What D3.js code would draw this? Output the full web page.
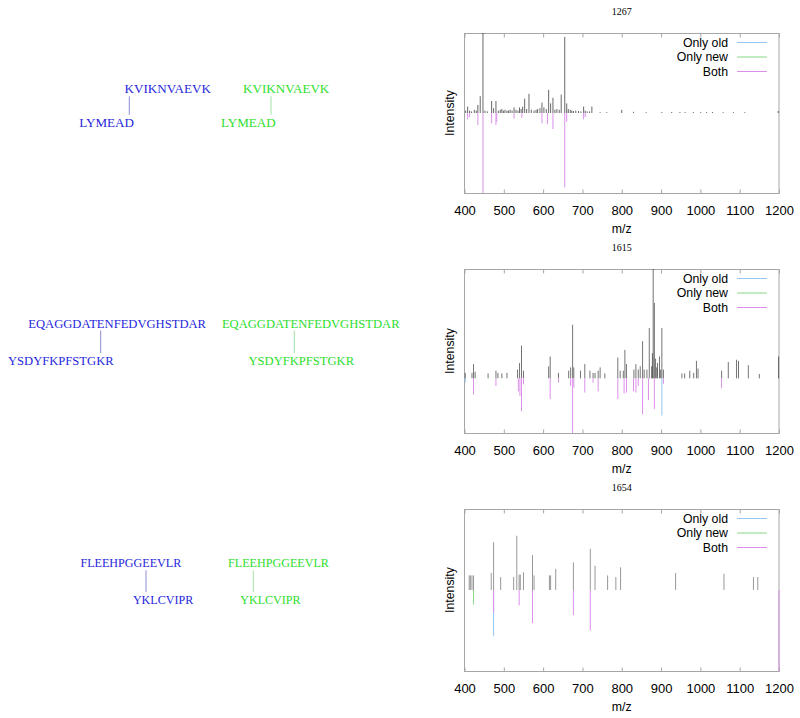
<!DOCTYPE html>
<html><head><meta charset="utf-8">
<script src="https://cdn.jsdelivr.net/npm/d3@7"></script>
<style>body{margin:0;background:#fff}svg{display:block}</style>
</head><body>
<svg id="c" width="800" height="718"></svg>
<script>
// ---------------- DATA ----------------
const titles = ["1267", "1615", "1654"];
const peptideA = ["KVIKNVAEVK", "EQAGGDATENFEDVGHSTDAR", "FLEEHPGGEEVLR"];
const peptideB = ["LYMEAD", "YSDYFKPFSTGKR", "YKLCVIPR"];
const oldLinkA = [0, 8, 8];
const oldLinkB = [5, 11, 1];
const newLinkA = [3, 8, 3];
const newLinkB = [5, 5, 1];
const xTicks = [400, 500, 600, 700, 800, 900, 1000, 1100, 1200];
const legendLabels = ["Only old", "Only new", "Both"];
const yDomains = [[-1, 1], [-0.5, 1], [-1, 1]];

// spectrum 1267
const spec1Mz  = [403,408,413,418,425,430,434,440,447,452,458,469,474,480,486,491,495,499,503,508,512,516,521,526,531,536,540,544,548,553,558,564,570,577,582,586,592,597,602,608,614,619,625,630,635,641,646,655,660,664,669,673,677,683,690,696,703,707,712,718,724,745,762,800,830,862,902,927,948,961,982,1001,1016,1031,1058,1084,1113,1198];
const spec1Int = [0.03,0.08,0.03,0.02,0.04,0.03,0.1,0.21,1.05,0.03,0.02,0.15,0.06,0.15,0.03,0.04,0.05,0.03,0.04,0.03,0.03,0.04,0.03,0.07,0.04,0.03,0.07,0.05,0.08,0.18,0.05,0.24,0.04,0.03,0.04,0.05,0.06,0.13,0.07,0.05,0.29,0.12,0.19,0.04,0.05,0.04,0.23,0.95,0.12,0.05,0.04,0.03,0.025,0.03,0.025,0.02,0.08,0.03,0.02,0.02,0.08,0.01,0.01,0.04,0.015,0.01,0.012,0.012,0.012,0.012,0.012,0.012,0.012,0.012,0.01,0.01,0.01,0.025];
const old1Mz = [], old1Int = [];
const new1Mz = [], new1Int = [];
const both1Mz  = [408,413,434,447,469,480,482,526,546,597,611,625,655,660,703,707];
const both1Int = [-0.08,-0.05,-0.15,-1.05,-0.13,-0.15,-0.11,-0.07,-0.06,-0.13,-0.14,-0.2,-0.93,-0.11,-0.08,-0.05];

// spectrum 1615
const spec2Mz  = [402,419,423,427,460,480,485,495,508,535,540,545,550,614,618,639,665,670,675,678,695,706,719,727,732,740,745,757,790,796,804,808,812,831,836,842,847,853,857,864,870,876,878,880,883,886,889,891,896,899,902,906,953,960,973,983,990,994,1054,1071,1092,1097,1122,1150,1199];
const spec2Int = [0.05,0.05,0.13,0.06,0.045,0.07,0.05,0.045,0.05,0.08,0.14,0.3,0.07,0.11,0.2,0.05,0.07,0.1,0.49,0.1,0.07,0.13,0.07,0.05,0.05,0.07,0.1,0.045,0.19,0.07,0.07,0.26,0.13,0.08,0.13,0.08,0.11,0.34,0.08,0.08,0.46,0.11,0.23,1.05,0.69,0.18,0.1,0.14,0.2,0.08,0.46,0.08,0.045,0.045,0.07,0.05,0.16,0.09,0.07,0.15,0.17,0.16,0.12,0.04,0.2];
const old2Mz  = [402,902];
const old2Int = [-0.04,-0.34];
const new2Mz = [], new2Int = [];
const both2Mz  = [423,480,537,541,545,550,618,639,670,675,678,706,727,740,790,806,812,830,836,842,853,868,883,906,1054];
const both2Int = [-0.15,-0.07,-0.12,-0.16,-0.3,-0.055,-0.19,-0.04,-0.07,-0.5,-0.085,-0.13,-0.04,-0.12,-0.19,-0.14,-0.13,-0.12,-0.13,-0.07,-0.33,-0.2,-0.28,-0.05,-0.09];

// spectrum 1654
const spec3Mz  = [412,415,419,423,468,474,492,525,533,539,542,550,573,577,616,619,632,677,720,732,764,785,797,937,1060,1135,1146];
const spec3Int = [0.18,0.18,0.18,0.18,0.21,0.59,0.16,0.16,0.67,0.19,0.19,0.22,0.43,0.18,0.18,0.18,0.26,0.34,0.51,0.3,0.18,0.16,0.28,0.21,0.2,0.16,0.16];
const old3Mz  = [474];
const old3Int = [-0.57];
const new3Mz  = [423];
const new3Int = [-0.18];
const both3Mz  = [474,539,573,677,720,1200];
const both3Int = [-0.28,-0.19,-0.41,-0.31,-0.5,-1.0];

// ---------------- LAYOUT / STYLE ----------------
const svg = d3.select("#c");
const SERIF = "'Liberation Serif','Times New Roman',serif";
const SANS = "'Liberation Sans',Arial,Helvetica,sans-serif";
const colOld = "#94c6f0", colNew = "#86d886", colBoth = "#dc90ea";
const frameCol = "#a6a6a6";
const plotLeft = 464.5, plotRight = 779;
const plotTops = [33, 269, 509];
const plotBottoms = [193, 433, 671];
const peakCols = ["#000", "#000", "#333"];
const peakW = [0.6, 0.55, 0.5];

const spectra = [
  {mz: spec1Mz, it: spec1Int, old: [old1Mz, old1Int], nw: [new1Mz, new1Int], both: [both1Mz, both1Int]},
  {mz: spec2Mz, it: spec2Int, old: [old2Mz, old2Int], nw: [new2Mz, new2Int], both: [both2Mz, both2Int]},
  {mz: spec3Mz, it: spec3Int, old: [old3Mz, old3Int], nw: [new3Mz, new3Int], both: [both3Mz, both3Int]}
];

const x = d3.scaleLinear().domain([400, 1200]).range([plotLeft, plotRight]);

spectra.forEach((s, i) => {
  const top = plotTops[i], bot = plotBottoms[i];
  const y = d3.scaleLinear().domain(yDomains[i]).range([bot, top]);
  const g = svg.append("g");
  const cid = "clip" + i;
  svg.append("clipPath").attr("id", cid).append("rect")
    .attr("x", plotLeft - 2).attr("y", top).attr("width", plotRight - plotLeft + 4).attr("height", bot - top);

  // title
  g.append("text").attr("x", (plotLeft + plotRight) / 2).attr("y", top - 22)
    .attr("text-anchor", "middle").attr("dominant-baseline", "central")
    .attr("font-family", SERIF).attr("font-size", 10).text(titles[i]);

  // frame
  g.append("rect").attr("x", plotLeft).attr("y", top + 0.5)
    .attr("width", plotRight - plotLeft).attr("height", bot - top)
    .attr("fill", "none").attr("stroke", frameCol).attr("stroke-width", 1);

  // x axis bottom (ticks inward) and mirror top
  const axB = g.append("g").attr("transform", `translate(0,${bot + 0.5})`)
    .call(d3.axisBottom(x).tickValues(xTicks).tickSize(-4).tickPadding(12).tickFormat(d3.format("d")));
  axB.select(".domain").remove();
  axB.selectAll("line").attr("stroke", frameCol);
  axB.selectAll("text").attr("font-family", SANS).attr("font-size", 13).attr("fill", "#000");
  const axT = g.append("g").attr("transform", `translate(0,${top + 0.5})`)
    .call(d3.axisTop(x).tickValues(xTicks).tickSize(-4).tickFormat(""));
  axT.select(".domain").remove();
  axT.selectAll("line").attr("stroke", frameCol);

  // labels
  g.append("text").attr("x", (plotLeft + plotRight) / 2).attr("y", bot + 36)
    .attr("text-anchor", "middle").attr("dominant-baseline", "central")
    .attr("font-family", SANS).attr("font-size", 12.3).text("m/z");
  g.append("text").attr("transform", `translate(450,${(top + bot) / 2}) rotate(-90)`)
    .attr("text-anchor", "middle").attr("dominant-baseline", "central")
    .attr("font-family", SANS).attr("font-size", 12.3).text("Intensity");

  const pg = g.append("g").attr("clip-path", `url(#${cid})`);
  const drawImp = (mz, it, col, w) => {
    pg.selectAll(null).data(d3.zip(mz, it)).enter().append("line")
      .attr("x1", d => x(d[0])).attr("x2", d => x(d[0]))
      .attr("y1", y(0)).attr("y2", d => y(d[1]))
      .attr("stroke", col).attr("stroke-width", w);
  };
  drawImp(s.mz, s.it, peakCols[i], peakW[i]);
  drawImp(s.old[0], s.old[1], colOld, 1);
  drawImp(s.nw[0], s.nw[1], colNew, 1);
  drawImp(s.both[0], s.both[1], colBoth, 1);

  // legend
  const lcols = [colOld, colNew, colBoth];
  legendLabels.forEach((lab, k) => {
    const ly = top + 9.5 + k * 14.5;
    g.append("text").attr("x", 728).attr("y", ly).attr("text-anchor", "end")
      .attr("dominant-baseline", "central").attr("font-family", SANS).attr("font-size", 12.3).text(lab);
    g.append("line").attr("x1", 737).attr("x2", 767).attr("y1", ly).attr("y2", ly)
      .attr("stroke", lcols[k]).attr("stroke-width", 1);
  });
});

// ---------------- crosslink diagrams ----------------
const rowTopBase = [93.3, 327.5, 567.3];
const rowBotBase = [126.7, 365, 604];
const oldLinkX = [129.3, 100.7, 146];
const newLinkX = [271, 294.3, 253.3];
const rowFont = [13.1, 12.6, 12.1];
const tmp = svg.append("text").attr("font-family", SERIF).attr("visibility", "hidden");
const measure = (str, size) => { tmp.attr("font-size", size).text(str); return tmp.node().getComputedTextLength(); };

function drawLink(i, pepA, pepB, la, lb, lx, textCol, lineCol) {
  const fs = rowFont[i];
  const offA = measure(pepA.slice(0, la), fs) + measure(pepA[la], fs) / 2;
  const offB = measure(pepB.slice(0, lb), fs) + measure(pepB[lb], fs) / 2;
  svg.append("line").attr("x1", lx).attr("x2", lx)
    .attr("y1", rowTopBase[i] + 3).attr("y2", rowBotBase[i] - 12)
    .attr("stroke", lineCol).attr("stroke-width", 1);
  svg.append("text").attr("x", lx - offA).attr("y", rowTopBase[i])
    .attr("font-family", SERIF).attr("font-size", fs).attr("fill", textCol).text(pepA);
  svg.append("text").attr("x", lx - offB).attr("y", rowBotBase[i])
    .attr("font-family", SERIF).attr("font-size", fs).attr("fill", textCol).text(pepB);
}
for (let i = 0; i < 3; i++) {
  drawLink(i, peptideA[i], peptideB[i], oldLinkA[i], oldLinkB[i], oldLinkX[i], "#2626dc", "#8e8ed4");
  drawLink(i, peptideA[i], peptideB[i], newLinkA[i], newLinkB[i], newLinkX[i], "#2ede2e", "#a4e2a4");
}
tmp.remove();
</script>
</body></html>
